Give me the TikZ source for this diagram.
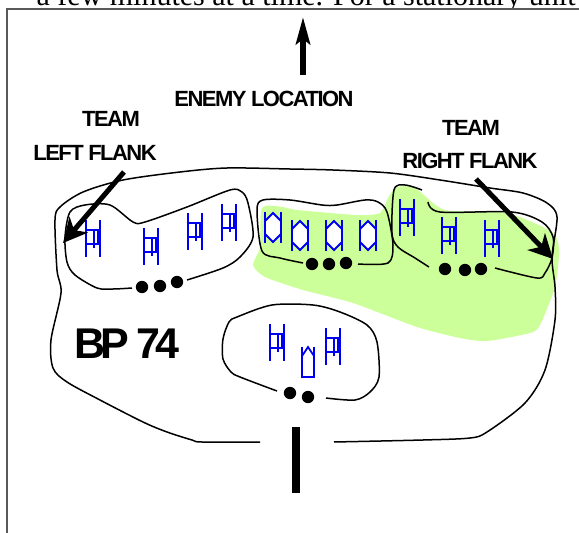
\documentclass[tikz,border=0pt]{standalone}
\usepackage{fontspec}
\setmainfont{Liberation Serif}
\newfontfamily\teamfont[LetterSpace=-7]{Liberation Sans}
\newfontfamily\bpfont[LetterSpace=-12]{Liberation Sans}
\usetikzlibrary{arrows.meta}
\tikzset{
  tanksym/.pic={
    \draw[unit line] (0,0) -- (0,37) (14,0) -- (14,37);
    \draw[unit line] (0,10) -- (14,10) (0,24) -- (14,24);
    \draw[unit line] (8,10) -- (8,28) (12,10) -- (12,24);
  },
  hexsym/.pic={
    \draw[unit line,fill=white] (8,1) -- (16,9) -- (16,22) -- (8,30) -- (0,22) -- (0,9) -- cycle;
    \draw[unit line] (0,0) -- (0,31) (16,0) -- (16,31);
  }
}
\begin{document}
\begin{tikzpicture}[x=1pt,y=-1pt,thick,
                    unit line/.style={draw=unitblue,line width=1.8pt},
                    bound line/.style={line width=1.5pt,smooth,tension=.5},
                    team node/.style={inner sep=0pt,font=\teamfont\bfseries\fontsize{22}{22}\selectfont},
                    big arrow/.style={line width=5pt,-{Stealth[length=24pt,width=24pt,inset=7pt]}}]
  \definecolor{unitblue}{RGB}{0,0,240}
  \definecolor{kill}{RGB}{204,255,153}
  \useasboundingbox (0,0) rectangle (579,533);
  \begin{scope}
    \clip (0,0) rectangle (579,8);
    \node[anchor=base east,inner sep=0pt,font=\fontsize{30}{30}\selectfont] (topline) at (576,5)
      {a few minutes at a time. For a stationary unit};
  \end{scope}
  \draw[draw=black!65,line width=2pt] (579,9) -- (7,9) -- (7,533);
  \fill[kill,smooth cycle,tension=.4] plot coordinates {(262,208) (283,207) (297,210) (357,215) (380,213)
    (388,198) (395,188) (407,186) (418,190) (445,210) (507,213) (552,232) (559,250) (555,287) (540,325)
    (530,333) (487,341) (460,338) (417,327) (353,303) (303,290) (265,277) (253,265) (260,247)};
  % boundary of the position
  \draw[bound line] plot coordinates {(260,442) (202,442) (192,440) (167,432) (143,422) (100,400) (67,382)
    (53,368) (51,340) (61,293) (57,270) (55,220) (60,207) (83,192) (123,180) (180,172) (227,168) (290,169)
    (333,170) (390,173) (440,180) (490,188) (523,193) (547,203) (557,217) (552,257) (555,287) (555,320)
    (545,370) (525,403) (487,432) (470,438) (423,440) (334,442)};
  \draw[bound line] plot coordinates {(132,288) (113,289) (97,288) (75,275) (67,262) (65,237) (70,212)
    (85,205) (110,205) (133,222) (145,222) (187,207) (230,190) (242,192) (248,203) (253,237) (240,257)
    (223,268) (187,280)};
  \draw[bound line] plot coordinates {(303,263) (280,258) (262,251) (257,210) (263,200) (290,200) (322,205)
    (337,205) (365,200) (378,202) (387,212) (393,245) (388,263) (358,264)};
  \draw[bound line] plot coordinates {(429,267) (415,258) (398,247) (392,233) (394,190) (405,185) (422,190)};
  \draw[bound line] plot coordinates {(428,202) (440,212) (512,212) (542,222) (553,237) (552,258) (545,273)
    (537,278) (495,268)};
  \draw[bound line] plot coordinates {(277,391) (240,377) (231,372) (223,359) (223,339) (229,322) (237,317)
    (272,305) (313,305) (340,312) (367,325) (377,342) (379,377) (370,392) (355,400) (326,398)};
  % vehicles
  \foreach \px/\py in {86/220,144/228,188/213,222/204,400/199,442/217,485/220,270/324,326/328}
    \pic at (\px,\py) {tanksym};
  \foreach \px/\py in {265/212,292/220,326/220,360/220}
    \pic at (\px,\py) {hexsym};
  \draw[unit line] (302,356) -- (302,377) -- (314,377) -- (314,347) (302,347) -- (302,356) -- (308,347) -- (314,356);
  % dots
  \foreach \px/\py in {142/287,160/286,177/282,312/264,329/264,346/263,445/269,465/270,481/269,290/393,308/397}
    \fill (\px,\py) circle (6.2);
  \node[team node] (enemy) at (264,99) {ENEMY LOCATION};
  \node[team node] (teamleft) at (111,119) {TEAM};
  \node[team node] (flankleft) at (95,153) {LEFT FLANK};
  \node[team node] (teamright) at (471,128) {TEAM};
  \node[team node] (flankright) at (470,161) {RIGHT FLANK};
  \node[inner sep=0pt,font=\bpfont\bfseries\fontsize{43}{43}\selectfont] (bp) at (127,344) {BP 74};
  \coordinate (enemytail) at (303,75);
  \coordinate (enemytip) at (303,17);
  \coordinate (lefttail) at (124,172);
  \coordinate (lefttip) at (63,243);
  \coordinate (righttail) at (476,179);
  \coordinate (righttip) at (553,259);
  \coordinate (gatetop) at (296,427);
  \coordinate (gatebottom) at (296,493);
  \draw[line width=6pt,-{Stealth[length=27pt,width=14pt,inset=5pt]}] (enemytail) -- (enemytip);
  \draw[big arrow] (lefttail) -- (lefttip);
  \draw[big arrow] (righttail) -- (righttip);
  \draw[line width=8pt] (gatetop) -- (gatebottom);
\end{tikzpicture}
\end{document}
